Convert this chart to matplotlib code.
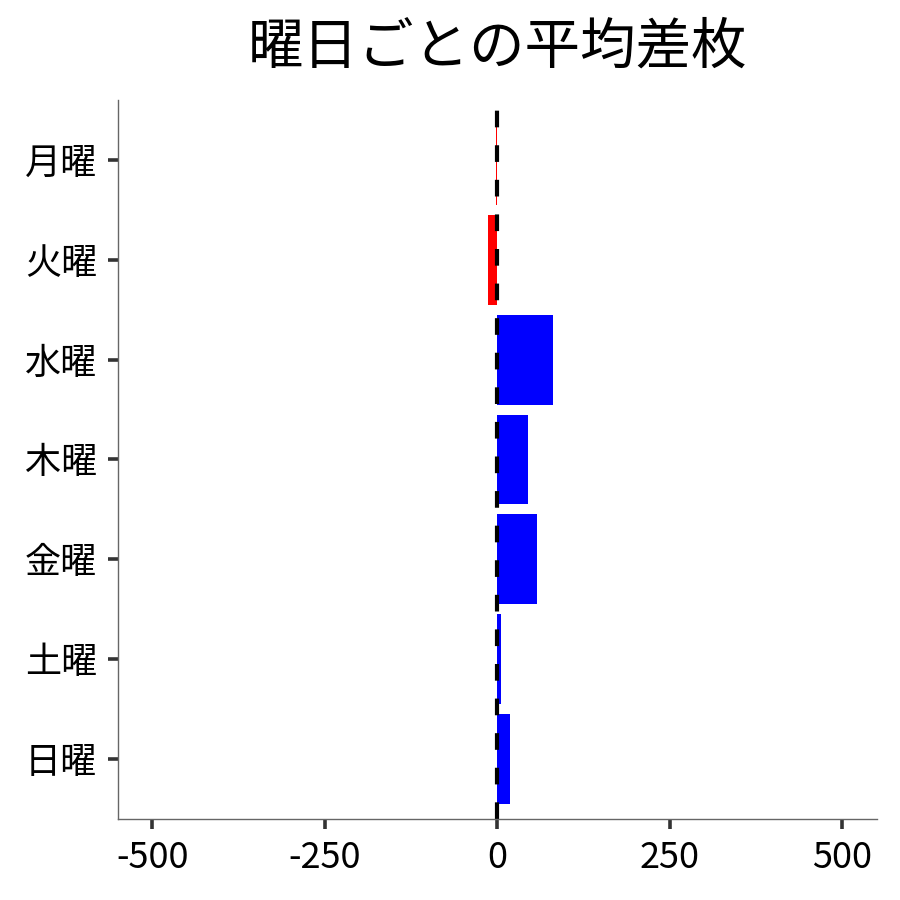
import matplotlib
matplotlib.use("Agg")
import matplotlib.pyplot as plt

plt.rcParams['font.family'] = ['Noto Sans CJK JP', 'DejaVu Sans']

days = ['月曜', '火曜', '水曜', '木曜', '金曜', '土曜', '日曜']
avg_diff = [-2, -13, 81, 45, 57, 5, 18]
x_ticks = [-500, -250, 0, 250, 500]

colors = ['red' if v < 0 else 'blue' for v in avg_diff]

fig = plt.figure(figsize=(9, 9), dpi=100)
ax = fig.add_axes([0.131, 0.09, 0.843, 0.799])

ax.barh(range(len(days)), avg_diff, height=0.9, color=colors)
ax.axvline(0, color='black', linestyle='--', linewidth=3, dashes=(4, 4.3))

ax.set_yticks(range(len(days)))
ax.set_yticklabels(days)
ax.set_ylim(6.6, -0.6)
ax.set_xlim(-550, 550)
ax.set_xticks(x_ticks)
ax.set_xticklabels([str(t) for t in x_ticks])

ax.tick_params(axis='both', labelsize=26, length=7, width=2.6, color='#333333', pad=8)
for side in ['top', 'right']:
    ax.spines[side].set_visible(False)
for side in ['left', 'bottom']:
    ax.spines[side].set_color('#666666')
    ax.spines[side].set_linewidth(1)

ax.set_title('曜日ごとの平均差枚', fontsize=40, pad=26)

fig.savefig('out.png', dpi=100)
